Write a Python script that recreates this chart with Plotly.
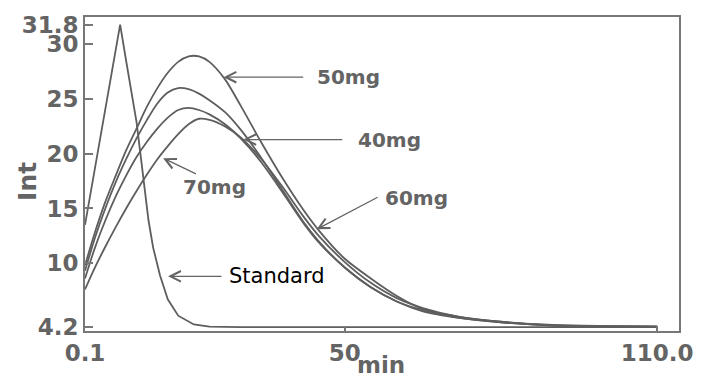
import numpy as np
import plotly.graph_objects as go

# Elution time (min) shared by the four dose curves
time_min = [0.1, 2, 4, 6, 8, 10, 12, 14, 16, 18, 20, 22, 24, 27, 30, 34, 38, 42,
            45, 50, 55, 60, 65, 72, 80, 90, 100, 110]

int_50mg = [9.8, 12.8, 15.6, 18.0, 20.3, 22.3, 24.3, 26.0, 27.4, 28.4, 28.9, 28.9,
            28.4, 26.8, 24.4, 21.0, 17.8, 14.9, 13.0, 10.4, 8.6, 7.0, 5.8, 5.1,
            4.65, 4.35, 4.25, 4.2]
int_40mg = [9.3, 12.3, 15.0, 17.4, 19.5, 21.4, 23.1, 24.6, 25.6, 26.0, 25.9, 25.5,
            24.9, 23.8, 22.2, 19.6, 16.7, 13.8, 12.0, 9.6, 7.8, 6.5, 5.6, 5.0,
            4.6, 4.3, 4.22, 4.2]
int_60mg = [8.6, 11.4, 13.9, 16.1, 18.0, 19.7, 21.1, 22.3, 23.3, 24.0, 24.2, 24.0,
            23.6, 22.7, 21.4, 19.2, 16.5, 13.7, 11.9, 9.6, 7.8, 6.5, 5.7, 5.0,
            4.6, 4.3, 4.22, 4.2]
int_70mg = [7.6, 9.6, 11.5, 13.3, 15.0, 16.6, 18.1, 19.5, 20.7, 21.8, 22.7, 23.2,
            23.1, 22.5, 21.5, 19.5, 17.0, 14.3, 12.5, 10.1, 8.2, 6.8, 5.9, 5.1,
            4.65, 4.33, 4.23, 4.2]

# Standard: sharp early peak
std_time = [0.1, 2, 4, 6, 6.85, 8, 10, 11, 12.3, 13.2, 14.5, 16, 18, 21, 24, 30,
            50, 80, 110]
std_int = [13.5, 18.6, 24.1, 29.5, 31.8, 28.5, 22.9, 19.0, 13.9, 11.4, 8.9, 6.7,
           5.2, 4.4, 4.2, 4.15, 4.15, 4.15, 4.15]

x_ticks = [0.1, 50, 110]
x_tick_text = ["0.1", "50", "110.0"]
y_ticks = [4.2, 10, 15, 20, 25, 30, 31.8]
y_tick_text = ["4.2", "10", "15", "20", "25", "30", "31.8"]

GRAY = "#646464"
LINE = "#5e5e5e"
FONT = "DejaVu Sans"

fig = go.Figure()
for vals in (int_50mg, int_40mg, int_60mg, int_70mg):
    fig.add_trace(go.Scatter(x=time_min, y=vals, mode="lines",
                             line=dict(color=LINE, width=1.8, shape="spline",
                                       smoothing=0.8),
                             showlegend=False, hoverinfo="skip"))
fig.add_trace(go.Scatter(x=std_time, y=std_int, mode="lines",
                         line=dict(color=LINE, width=1.8),
                         showlegend=False, hoverinfo="skip"))

# Callouts: (text, text x, text y, tail x, tail y, tip x, tip y, colour, bold)
callouts = [
    ("50mg", 44.2, 27.0, 42.3, 27.0, 26.7, 27.0, GRAY, True),
    ("40mg", 52.1, 21.3, 49.8, 21.3, 30.5, 21.3, GRAY, True),
    ("60mg", 57.3, 16.0, 56.6, 16.1, 44.6, 13.1, GRAY, True),
    ("70mg", 18.5, 17.0, 21.7, 18.1, 15.1, 19.6, GRAY, True),
    ("Standard", 27.3, 8.8, 26.6, 8.8, 16.05, 8.8, "#000000", False),
]
for text, tx, ty, ax, ay, hx, hy, col, bold in callouts:
    fig.add_annotation(x=hx, y=hy, ax=ax, ay=ay, xref="x", yref="y",
                       axref="x", ayref="y", text="", showarrow=True,
                       arrowhead=5, arrowsize=1.6, arrowwidth=1.3,
                       arrowcolor=GRAY)
    fig.add_annotation(x=tx, y=ty, xref="x", yref="y", text=text,
                       showarrow=False, xanchor="left", yanchor="middle",
                       font=dict(family=FONT, size=20 if bold else 21,
                                 color=col,
                                 weight="bold" if bold else "normal"))

# Axis titles
fig.add_annotation(x=-0.096, y=0.478, xref="paper", yref="paper", text="Int",
                   textangle=-90, showarrow=False, xanchor="center",
                   yanchor="middle",
                   font=dict(family=FONT, size=25, color=GRAY, weight="bold"))
fig.add_annotation(x=0.498, y=-0.107, xref="paper", yref="paper", text="min",
                   showarrow=False, xanchor="center", yanchor="middle",
                   font=dict(family=FONT, size=23, color=GRAY, weight="bold"))

axis_common = dict(showgrid=False, zeroline=False, showline=True, mirror=True,
                   linecolor="#777777", linewidth=2, ticks="inside",
                   tickcolor="#777777", tickwidth=2,
                   tickfont=dict(family=FONT, size=23, color=GRAY,
                                 weight="bold"))
fig.update_xaxes(range=[0.1, 114.2], tickmode="array", tickvals=x_ticks,
                 ticktext=x_tick_text, ticklen=5, **axis_common)
fig.update_yaxes(range=[3.8, 32.5], tickmode="array", tickvals=y_ticks,
                 ticktext=y_tick_text, ticklen=8, **axis_common)

fig.update_layout(width=705, height=378,
                  margin=dict(l=85, r=18, t=14, b=46),
                  paper_bgcolor="white", plot_bgcolor="white")

fig.write_html("out.html")
